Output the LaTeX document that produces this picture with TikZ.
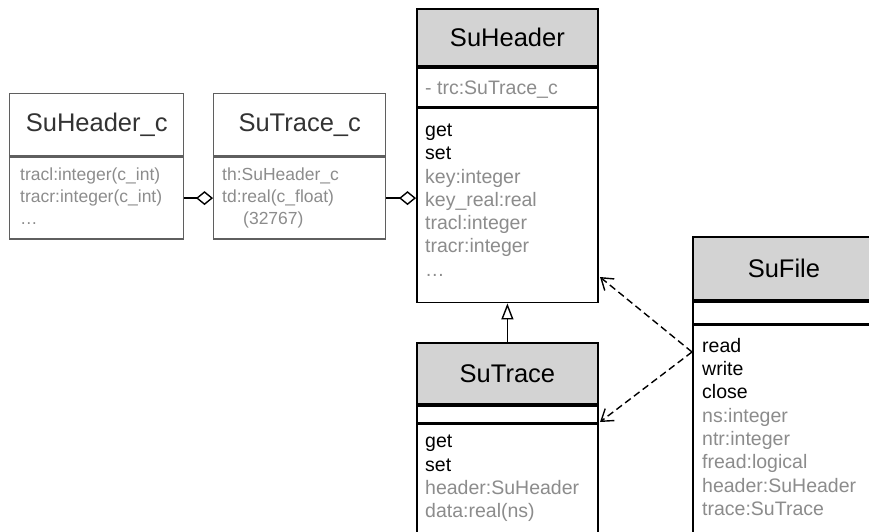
\documentclass[tikz,border=0pt]{standalone}
\usepackage{fontspec}
\setmainfont{Liberation Sans}
\usetikzlibrary{positioning,calc,arrows.meta}

\definecolor{hdrgray}{RGB}{211,211,211}
\definecolor{txtgray}{RGB}{140,140,140}
\definecolor{boxgray}{RGB}{95,95,95}
\newcommand{\gattr}[1]{\textcolor{txtgray}{#1}}

\begin{document}
\begin{tikzpicture}[x=1pt, y=-1pt,
    cls/.style={draw, line width=1.8pt, fill=hdrgray, anchor=north west, minimum width=181, inner sep=0pt, font=\fontsize{25.5}{30}\selectfont},
    part/.style={draw, line width=1.8pt, fill=white, minimum width=181, inner sep=0pt},
    ccls/.style={draw=boxgray, line width=1.4pt, anchor=north west, inner sep=0pt, minimum height=62, text=black!80, font=\fontsize{25.5}{30}\selectfont},
    cpart/.style={draw=boxgray, line width=1.4pt, inner sep=0pt, minimum height=82},
    txt/.style={anchor=north west, inner sep=0pt, align=left, font=\fontsize{19.5}{23.3}\selectfont, execute at begin node=\strut},
    ctxt/.style={anchor=north west, inner sep=0pt, align=left, text=txtgray, font=\fontsize{17.5}{21.7}\selectfont, execute at begin node=\strut},
    agg/.style={line width=1.4pt, -{Diamond[open, length=17pt, width=14pt]}},
    inh/.style={line width=1.4pt, -{Triangle[open, length=16pt, width=12pt]}},
    dep/.style={line width=1.4pt, dash pattern=on 7pt off 4pt, -{Straight Barb[length=11pt, width=15pt]}}
]
    \useasboundingbox (0,0) rectangle (869,532);
    \clip (0,0) rectangle (869,532);

    % C side
    \node[ccls, minimum width=174] (hc) at (9,93) {SuHeader\_c};
    \node[cpart, minimum width=174, below=0pt of hc] (hcB) {};
    \node[ctxt] (hcT) at ($(hcB.north west)+(11,11.5)$) {tracl:integer(c\_int)\\tracr:integer(c\_int)\\\dots};

    \node[ccls, minimum width=172] (tc) at (213,93) {SuTrace\_c};
    \node[cpart, minimum width=172, below=0pt of tc] (tcB) {};
    \node[ctxt] (tcT) at ($(tcB.north west)+(9,11.5)$) {th:SuHeader\_c\\td:real(c\_float)\\\hspace*{21pt}(32767)};

    % SuHeader
    \node[cls, minimum height=57] (hdr) at (416,8) {SuHeader};
    \node[part, minimum height=39, below=0pt of hdr] (hdrA) {};
    \node[part, minimum height=194, below=0pt of hdrA] (hdrM) {};
    \node[txt] (hdrAT) at ($(hdrA.north west)+(9,10.7)$) {\gattr{- trc:SuTrace\_c}};
    \node[txt] (hdrMT) at ($(hdrM.north west)+(9,16)$) {get\\set\\\gattr{key:integer}\\\gattr{key\_real:real}\\\gattr{tracl:integer}\\\gattr{tracr:integer}\\\gattr{\dots}};

    % SuTrace
    \node[cls, minimum height=61] (trc) at (416,342) {SuTrace};
    \node[part, minimum height=17, below=0pt of trc] (trcA) {};
    \node[part, minimum height=160, below=0pt of trcA] (trcM) {};
    \node[txt] (trcMT) at ($(trcM.north west)+(9,11.5)$) {get\\set\\\gattr{header:SuHeader}\\\gattr{data:real(ns)}};

    % SuFile
    \node[cls, minimum width=182, minimum height=63] (fil) at (692,236) {SuFile};
    \node[part, minimum width=182, minimum height=22, below=0pt of fil] (filA) {};
    \node[part, minimum width=182, minimum height=260, below=0pt of filA] (filM) {};
    \node[txt] (filMT) at ($(filM.north west)+(10,13.4)$) {read\\write\\close\\\gattr{ns:integer}\\\gattr{ntr:integer}\\\gattr{fread:logical}\\\gattr{header:SuHeader}\\\gattr{trace:SuTrace}};

    % connectors
    \draw[agg] (hcB.east) -- (tcB.west);
    \draw[agg] (tcB.east) -- (tcB.east -| hdrM.west);
    \draw[inh] (trc.north) -- (hdrM.south);

    \coordinate (filOut) at (692,352);
    \coordinate (hdrIn) at (600,277);
    \coordinate (trcIn) at (600,422);
    \draw[dep] (filOut) -- (hdrIn);
    \draw[dep] (filOut) -- (trcIn);
\end{tikzpicture}
\end{document}
